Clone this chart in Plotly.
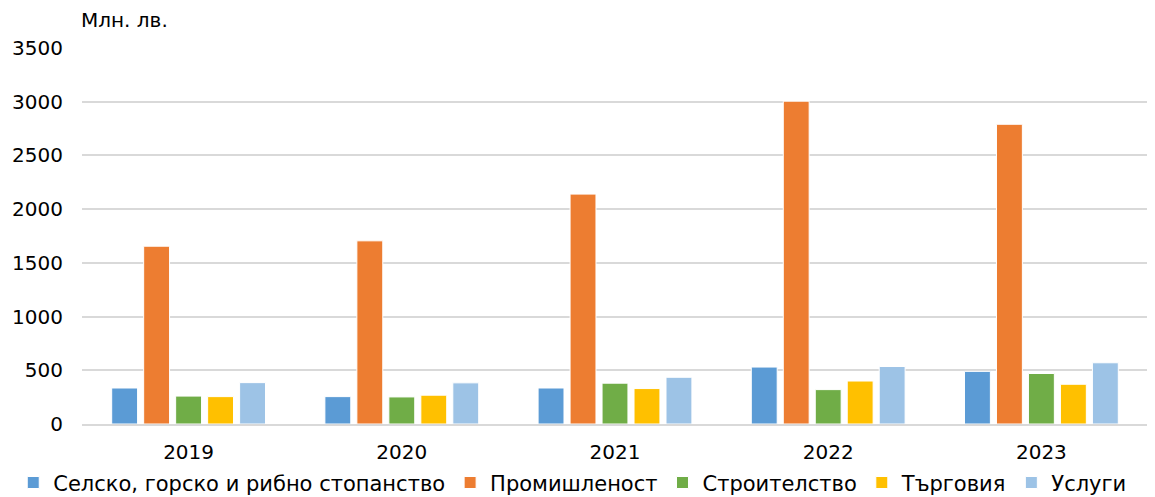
import plotly.graph_objects as go

years = ["2019", "2020", "2021", "2022", "2023"]
series_names = ["Селско, горско и рибно стопанство", "Промишленост", "Строителство", "Търговия", "Услуги"]
agri = [335, 255, 335, 530, 490]
industry = [1655, 1705, 2140, 3005, 2790]
construction = [260, 252, 380, 320, 470]
trade = [255, 268, 330, 400, 370]
services = [385, 383, 435, 535, 570]
colors = ["#5B9BD5", "#ED7D31", "#70AD47", "#FFC000", "#9DC3E6"]

fig = go.Figure()
for name, vals, c in zip(series_names, [agri, industry, construction, trade, services], colors):
    fig.add_trace(go.Bar(x=years, y=vals, name=name, marker=dict(color=c, line=dict(color="white", width=1))))

fig.update_layout(
    width=1155, height=497,
    margin=dict(l=74, r=15, t=40, b=81, autoexpand=False),
    paper_bgcolor="white", plot_bgcolor="white",
    barmode="group", bargap=0.25, bargroupgap=0.19,
    font=dict(family="DejaVu Sans", size=20, color="#000000"),
    yaxis=dict(range=[0, 3500], dtick=500, gridcolor="#D9D9D9", gridwidth=1.5,
               zeroline=False, ticks="", tickfont=dict(size=20), ticklabelstandoff=18),
    xaxis=dict(showline=True, linecolor="#D9D9D9", linewidth=1.5, ticks="", tickfont=dict(size=20),
               ticklabelstandoff=9),
    legend=dict(orientation="h", x=-0.0645, xanchor="left",
                y=-0.102, yanchor="top", font=dict(size=21), itemwidth=30, tracegroupgap=0,
                bgcolor="rgba(0,0,0,0)"),
)
fig.add_annotation(text="Млн. лв.", xref="paper", yref="paper", x=-0.003, y=1.0, yshift=14,
                   xanchor="left", yanchor="bottom", showarrow=False, font=dict(size=20))
fig.write_html("out.html")
